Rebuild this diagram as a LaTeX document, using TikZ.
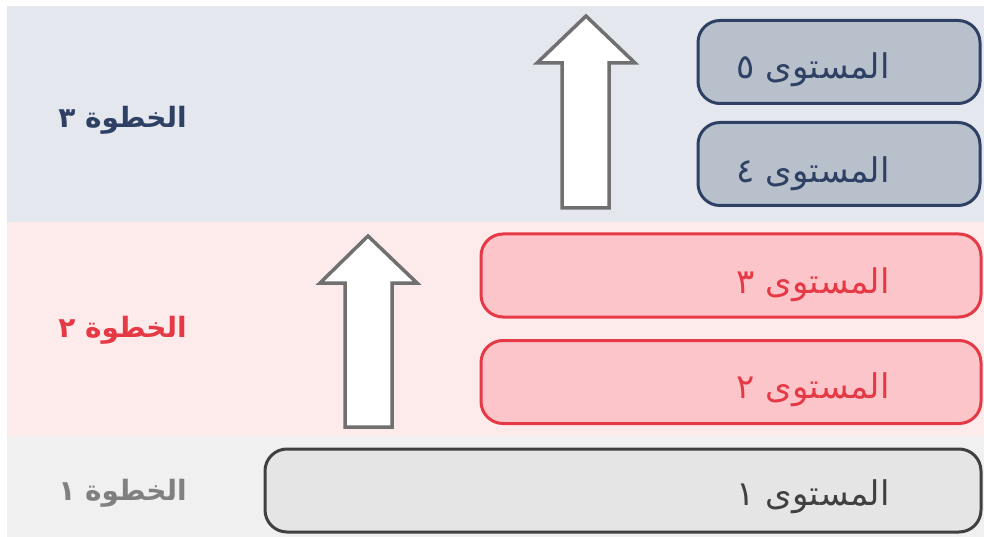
\documentclass[tikz,border=0pt]{standalone}
\usepackage{fontspec}
\TeXXeTstate=1
\newfontfamily\arabicfont[Script=Arabic]{DejaVu Sans}
\newfontfamily\arabicbold[Script=Arabic]{DejaVu Sans Bold}
\definecolor{bandC}{HTML}{E4E8EE}
\definecolor{bandB}{HTML}{FDEBEC}
\definecolor{bandA}{HTML}{F0F0F0}
\definecolor{navy}{HTML}{2E4064}
\definecolor{navyfill}{HTML}{B8C0CB}
\definecolor{redline}{HTML}{E63946}
\definecolor{redfill}{HTML}{FCC5CA}
\definecolor{darkgr}{HTML}{404040}
\definecolor{lightgr}{HTML}{E5E5E5}
\definecolor{midgr}{HTML}{808080}
\definecolor{arrowgr}{HTML}{707070}
\tikzset{
  levelbox/.style={draw, line width=3pt, rounded corners=22pt, inner sep=0pt},
  navybox/.style={levelbox, draw=navy, fill=navyfill},
  redbox/.style={levelbox, draw=redline, fill=redfill},
  graybox/.style={levelbox, draw=darkgr, fill=lightgr},
  leveltext/.style={anchor=east, inner sep=0pt, font=\arabicfont\fontsize{34}{38}\selectfont},
  steptext/.style={anchor=east, inner sep=0pt, font=\arabicbold\fontsize{28}{32}\selectfont},
  blockarrow/.style={draw=arrowgr, fill=white, line width=3.5pt, line join=miter},
}
\begin{document}
\begin{tikzpicture}[x=1pt,y=-1pt]
\useasboundingbox (0,0) rectangle (984,537);
\fill[white] (0,0) rectangle (984,537);
% bands
\fill[bandC] (7,6) rectangle (984,222);
\fill[bandB] (7,222) rectangle (984,436);
\fill[bandA] (7,436) rectangle (984,537);
% level boxes
\node[navybox, minimum width=282pt, minimum height=83pt] (l5) at (839,62) {};
\node[navybox, minimum width=282pt, minimum height=83pt] (l4) at (839,164) {};
\node[redbox, minimum width=500pt, minimum height=83pt] (l3) at (731,275.5) {};
\node[redbox, minimum width=500pt, minimum height=83pt] (l2) at (731,382) {};
\node[graybox, minimum width=716pt, minimum height=83pt] (l1) at (623,490.5) {};
% level texts
\node[leveltext, text=navy] (t5) at (890,70) {\beginR المستوى ٥\endR};
\node[leveltext, text=navy] (t4) at (890,174) {\beginR المستوى ٤\endR};
\node[leveltext, text=redline] (t3) at (890,285) {\beginR المستوى ٣\endR};
\node[leveltext, text=redline] (t2) at (890,390) {\beginR المستوى ٢\endR};
\node[leveltext, text=darkgr] (t1) at (890,497) {\beginR المستوى ١\endR};
% step texts
\node[steptext, text=navy] (s3) at (187,120) {\beginR الخطوة ٣\endR};
\node[steptext, text=redline] (s2) at (187,330) {\beginR الخطوة ٢\endR};
\node[steptext, text=midgr] (s1) at (187,493) {\beginR الخطوة ١\endR};
% block arrows
\draw[blockarrow] (586,16) -- (635,63) -- (609,63) -- (609,208) -- (562,208) -- (562,63) -- (537,63) -- cycle;
\draw[blockarrow] (368,236) -- (417,283) -- (392,283) -- (392,427) -- (345,427) -- (345,283) -- (320,283) -- cycle;
\end{tikzpicture}
\end{document}
